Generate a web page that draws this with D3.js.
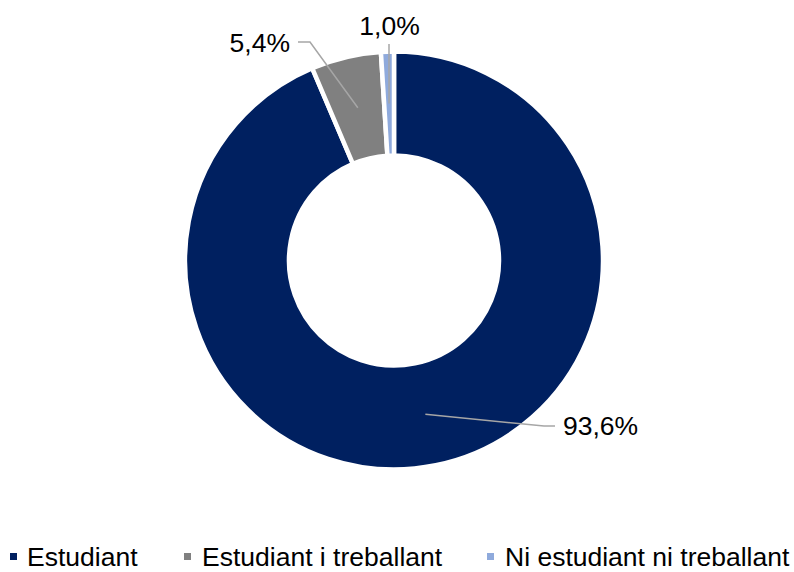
<!DOCTYPE html>
<html>
<head>
<meta charset="utf-8">
<script src="https://cdn.jsdelivr.net/npm/d3@7"></script>
<style>
  body { margin: 0; background: #fff; }
  text { font-family: Arial, "Liberation Sans", sans-serif; }
</style>
</head>
<body>
<div id="chart"></div>
<script>
// chart data
var categories = ["Estudiant", "Estudiant i treballant", "Ni estudiant ni treballant"];
var values = [93.6, 5.4, 1.0];
var colors = ["#002060", "#808080", "#8FAADC"];

var svgWidth = 794;
var svgHeight = 572;

var cx = 394, cy = 260.5;
var outerR = 209, innerR = 105;

var svg = d3.select("#chart")
  .append("svg")
  .attr("width", svgWidth)
  .attr("height", svgHeight);

var chartGroup = svg.append("g")
  .attr("transform", `translate(${cx}, ${cy})`);

var pie = d3.pie().sort(null).value(d => d);
var arcs = pie(values);

var arc = d3.arc().innerRadius(innerR).outerRadius(outerR);
var midArc = d3.arc().innerRadius(157).outerRadius(157);

chartGroup.selectAll("path.slice")
  .data(arcs)
  .enter()
  .append("path")
  .attr("class", "slice")
  .attr("d", arc)
  .attr("fill", (d, i) => colors[i])
  .attr("stroke", "white")
  .attr("stroke-width", 4.5)
  .attr("stroke-linejoin", "miter");

// label layout (elbow point, end point, text anchor), relative to centre
var labelLayout = [
  { elbow: [150, 165.5], end: [161, 165.5], tx: 169, ty: 174.5, anchor: "start" },
  { elbow: [-84, -218.5], end: [-96, -218.5], tx: -104, ty: -209, anchor: "end" },
  { elbow: [-5, -216.5], end: [-5, -216.5], tx: -4.5, ty: -226, anchor: "middle" }
];

var fmt = v => v.toFixed(1).replace(".", ",") + "%";

chartGroup.selectAll("polyline.leader")
  .data(arcs)
  .enter()
  .append("polyline")
  .attr("class", "leader")
  .attr("points", (d, i) => {
    var c = midArc.centroid(d);
    var l = labelLayout[i];
    return [c, l.elbow, l.end].map(p => p.join(",")).join(" ");
  })
  .attr("fill", "none")
  .attr("stroke", "#A6A6A6")
  .attr("stroke-width", 1.5);

chartGroup.selectAll("text.pct")
  .data(arcs)
  .enter()
  .append("text")
  .attr("class", "pct")
  .attr("x", (d, i) => labelLayout[i].tx)
  .attr("y", (d, i) => labelLayout[i].ty)
  .attr("text-anchor", (d, i) => labelLayout[i].anchor)
  .attr("font-size", "26.5px")
  .attr("fill", "#000")
  .text(d => fmt(d.data));

// legend
var legendX = [10, 184, 487];
var legend = svg.selectAll("g.legend")
  .data(categories)
  .enter()
  .append("g")
  .attr("class", "legend")
  .attr("transform", (d, i) => `translate(${legendX[i]}, 566)`);

legend.append("rect")
  .attr("x", 0)
  .attr("y", -13)
  .attr("width", 7)
  .attr("height", 7)
  .attr("fill", (d, i) => colors[i]);

legend.append("text")
  .attr("x", (d, i) => i === 0 ? 17 : 18)
  .attr("y", 0)
  .attr("font-size", "26.5px")
  .attr("fill", "#000")
  .text(d => d);
</script>
</body>
</html>
